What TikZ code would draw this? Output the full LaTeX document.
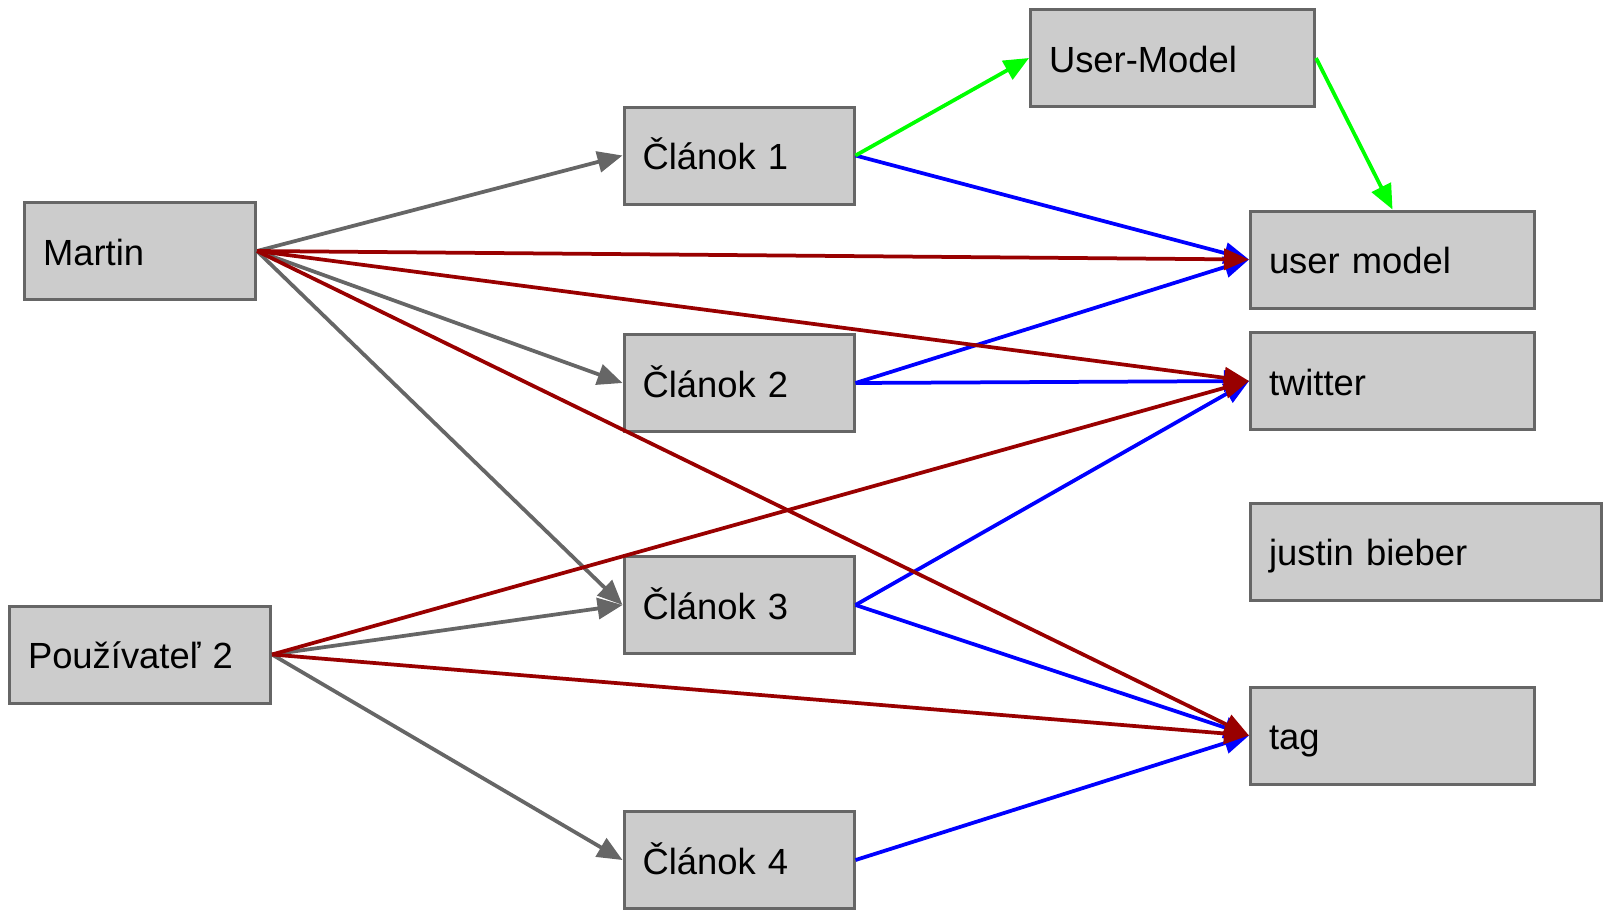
\documentclass[tikz,border=0pt]{standalone}
\usepackage{fontspec}
\setmainfont{Liberation Sans}
\usepackage{tikz}
\usetikzlibrary{arrows.meta}
\definecolor{linegray}{HTML}{666666}
\definecolor{boxgray}{HTML}{CCCCCC}
\definecolor{userred}{HTML}{990000}
\tikzstyle{box} = [rectangle, draw=linegray, fill=boxgray, line width=0.06cm, minimum height=1.94cm, inner xsep=0.37cm, text height=0.56cm, text depth=0cm, align=left, font=\fontsize{20.7pt}{24pt}\selectfont]
\tikzstyle{arrow} = [line width=0.075cm, -{Triangle[length=0.5cm,width=0.42cm]}]
\tikzstyle{readarrow} = [arrow, draw=linegray, fill=linegray]
\tikzstyle{userarrow} = [arrow, draw=userred, fill=userred]
\tikzstyle{tagarrow} = [arrow, draw=blue, fill=blue]
\tikzstyle{modelarrow} = [arrow, draw=green, fill=green]

\begin{document}
\begin{tikzpicture}[node distance=2.43cm]
\useasboundingbox (0,0) rectangle (32.08,-18.18);
\node (martin) [box, text width=3.88cm] at (2.80,-5.02) {Martin};
\node (user2) [box, text width=4.48cm, below of=martin, yshift=-5.64cm] {Používateľ 2};
\node (cl1) [box, text width=3.86cm, right of=martin, xshift=9.55cm, yshift=1.91cm] {Článok 1};
\node (cl2) [box, text width=3.86cm, below of=cl1, yshift=-2.12cm] {Článok 2};
\node (cl3) [box, text width=3.86cm, below of=cl2, yshift=-2.01cm] {Článok 3};
\node (cl4) [box, text width=3.86cm, below of=cl3, yshift=-2.67cm] {Článok 4};
\node (umA) [box, text width=4.94cm, right of=cl1, xshift=6.24cm, yshift=1.95cm] {User-Model};
\node (umodel) [box, text width=4.94cm, below of=umA, xshift=4.40cm, yshift=-1.60cm] {user model};
\node (twitter) [box, text width=4.94cm, below of=umodel] {twitter};
\node (bieber) [box, text width=6.28cm, below of=twitter, xshift=0.67cm, yshift=-0.98cm] {justin bieber};
\node (tag) [box, text width=4.94cm, below of=bieber, xshift=-0.67cm, yshift=-1.25cm] {tag};

\draw [readarrow] (martin.east) -- (cl1.west);
\draw [readarrow] (martin.east) -- (cl2.west);
\draw [readarrow] (martin.east) -- (cl3.west);
\draw [readarrow] (user2.east) -- (cl3.west);
\draw [readarrow] (user2.east) -- (cl4.west);
\draw [tagarrow] (cl1.east) -- (umodel.west);
\draw [tagarrow] (cl2.east) -- (umodel.west);
\draw [tagarrow] (cl2.east) -- (twitter.west);
\draw [tagarrow] (cl3.east) -- (twitter.west);
\draw [tagarrow] (cl3.east) -- (tag.west);
\draw [tagarrow] (cl4.east) -- (tag.west);
\draw [modelarrow] (cl1.east) -- (umA.west);
\draw [modelarrow] (umA.east) -- (umodel.north);
\draw [userarrow] (martin.east) -- (umodel.west);
\draw [userarrow] (martin.east) -- (twitter.west);
\draw [userarrow] (martin.east) -- (tag.west);
\draw [userarrow] (user2.east) -- (twitter.west);
\draw [userarrow] (user2.east) -- (tag.west);
\end{tikzpicture}
\end{document}
